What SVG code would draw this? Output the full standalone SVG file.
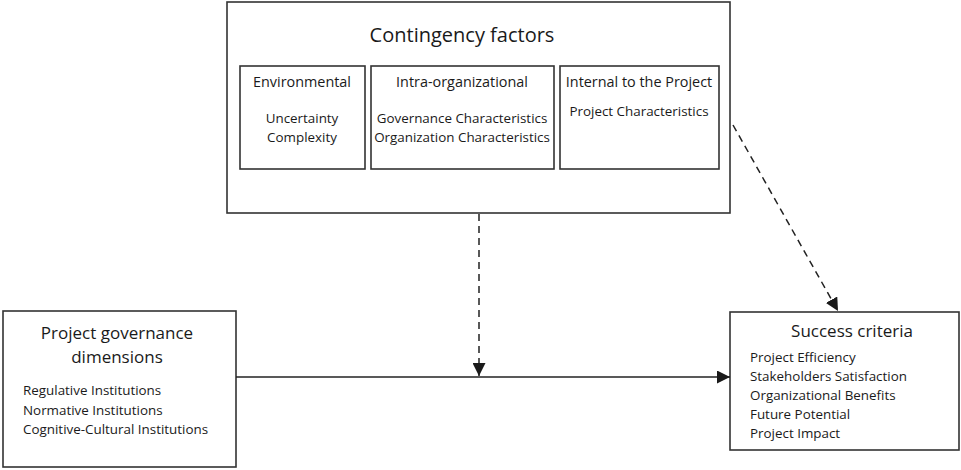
<svg xmlns="http://www.w3.org/2000/svg" width="961" height="470" viewBox="0 0 961 470">
<style>
  .box{fill:#fff;stroke:#333;stroke-width:1.6}
  .t{font-family:"Open Sans","Liberation Sans",sans-serif;fill:#1a1a1a}
  .c{text-anchor:middle}
  .s{font-size:13.4px}
  .h{font-size:14.4px}
  .conn{stroke:#222;stroke-width:1.5;fill:none}
  .dash{stroke-dasharray:7,5}
</style>
<defs>
  <marker id="ah" viewBox="0 0 10 10" refX="10" refY="5" markerWidth="13" markerHeight="13" markerUnits="userSpaceOnUse" orient="auto">
    <path d="M0,0 L10,5 L0,10 z" fill="#1a1a1a"/>
  </marker>
</defs>
<rect width="961" height="470" fill="#fff"/>
<g id="contingency">
  <rect class="box" x="227" y="2" width="503" height="211"/>
  <text class="t c" x="462" y="42" font-size="20">Contingency factors</text>
</g>
<g id="environmental">
  <rect class="box" x="240" y="66" width="125" height="103"/>
  <text class="t c h" x="302" y="87">Environmental</text>
  <text class="t c s" x="302" y="123">Uncertainty</text>
  <text class="t c s" x="302" y="142">Complexity</text>
</g>
<g id="intra">
  <rect class="box" x="371" y="66" width="183" height="103"/>
  <text class="t c h" x="462" y="87">Intra-organizational</text>
  <text class="t c s" x="462" y="123">Governance Characteristics</text>
  <text class="t c s" x="462" y="142">Organization Characteristics</text>
</g>
<g id="internal">
  <rect class="box" x="560" y="66" width="159" height="103"/>
  <text class="t c h" x="639" y="87">Internal to the Project</text>
  <text class="t c s" x="639" y="116">Project Characteristics</text>
</g>
<g id="governance">
  <rect class="box" x="3" y="311" width="233" height="156"/>
  <text class="t c" x="117" y="339" font-size="17">Project governance</text>
  <text class="t c" x="117" y="363" font-size="17">dimensions</text>
  <text class="t s" x="23" y="395">Regulative Institutions</text>
  <text class="t s" x="23" y="415">Normative Institutions</text>
  <text class="t s" x="23" y="434">Cognitive-Cultural Institutions</text>
</g>
<g id="success">
  <rect class="box" x="730" y="312" width="229" height="138"/>
  <text class="t c" x="852" y="337" font-size="17">Success criteria</text>
  <text class="t s" x="750" y="362">Project Efficiency</text>
  <text class="t s" x="750" y="381">Stakeholders Satisfaction</text>
  <text class="t s" x="750" y="400">Organizational Benefits</text>
  <text class="t s" x="750" y="419">Future Potential</text>
  <text class="t s" x="750" y="438">Project Impact</text>
</g>
<g id="connectors">
  <line class="conn" x1="236" y1="377" x2="730" y2="377" marker-end="url(#ah)"/>
  <line class="conn dash" x1="479" y1="214" x2="479" y2="376" marker-end="url(#ah)"/>
  <line class="conn dash" x1="733" y1="125" x2="838" y2="311" marker-end="url(#ah)"/>
</g>
</svg>
